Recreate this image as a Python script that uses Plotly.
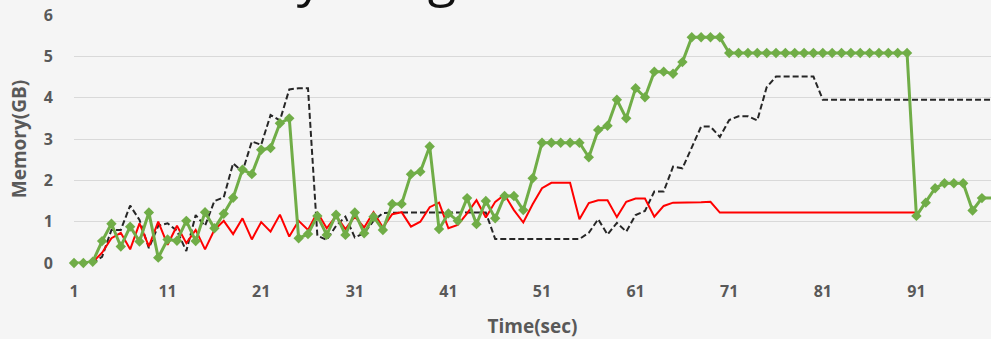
import plotly.graph_objects as go

# Memory (GB) per second
green_mem = [
    0, 0, 0.03, 0.53, 0.95, 0.4, 0.88, 0.52, 1.22, 0.13,
    0.57, 0.54, 1.02, 0.53, 1.23, 0.84, 1.19, 1.58, 2.26, 2.15,
    2.74, 2.78, 3.38, 3.5, 0.6, 0.7, 1.14, 0.68, 1.17, 0.68,
    1.22, 0.72, 1.12, 0.8, 1.43, 1.43, 2.15, 2.21, 2.82, 0.82,
    1.2, 1.02, 1.57, 0.94, 1.5, 1.08, 1.62, 1.62, 1.28, 2.05,
    2.91, 2.91, 2.91, 2.91, 2.91, 2.56, 3.22, 3.32, 3.95, 3.5,
    4.23, 4.01, 4.63, 4.63, 4.58, 4.86, 5.46, 5.46, 5.46, 5.46,
    5.08, 5.08, 5.08, 5.08, 5.08, 5.08, 5.08, 5.08, 5.08, 5.08,
    5.08, 5.08, 5.08, 5.08, 5.08, 5.08, 5.08, 5.08, 5.08, 5.08,
    1.14, 1.46, 1.81, 1.93, 1.93, 1.93, 1.27, 1.57, 1.57,
]

red_mem = [
    0, 0, 0.02, 0.25, 0.6, 0.73, 0.33, 0.96, 0.4, 1.0,
    0.44, 0.9, 0.48, 0.8, 0.33, 0.8, 1.02, 0.7, 1.08, 0.57,
    0.99, 0.76, 1.17, 0.64, 1.02, 0.8, 1.23, 0.84, 1.14, 0.82,
    1.12, 0.86, 1.23, 0.86, 1.18, 1.23, 0.88, 1.0, 1.35, 1.46,
    0.84, 0.92, 1.2, 1.52, 1.1, 1.48, 1.65, 1.28, 0.98, 1.42,
    1.81, 1.94, 1.94, 1.94, 1.06, 1.45, 1.52, 1.52, 1.11, 1.48,
    1.56, 1.56, 1.12, 1.38, 1.46, 1.46, 1.46, 1.47, 1.48, 1.22,
    1.22, 1.22, 1.22, 1.22, 1.22, 1.22, 1.22, 1.22, 1.22, 1.22,
    1.22, 1.22, 1.22, 1.22, 1.22, 1.22, 1.22, 1.22, 1.22, 1.22,
    1.22,
]

black_mem = [
    0, 0, 0, 0.15, 0.8, 0.8, 1.39, 1.04, 0.36, 0.9,
    0.96, 0.78, 0.29, 1.16, 0.9, 1.5, 1.59, 2.41, 2.21, 2.94,
    2.86, 3.58, 3.45, 4.2, 4.23, 4.23, 0.66, 0.56, 0.9, 1.12,
    0.62, 0.72, 1.02, 1.21, 1.22, 1.22, 1.22, 1.22, 1.22, 1.22,
    1.22, 1.22, 1.22, 1.22, 1.22, 0.58, 0.58, 0.58, 0.58, 0.58,
    0.58, 0.58, 0.58, 0.58, 0.58, 0.73, 1.06, 0.69, 0.97, 0.76,
    1.16, 1.26, 1.73, 1.73, 2.33, 2.29, 2.8, 3.3, 3.3, 3.05,
    3.46, 3.55, 3.55, 3.45, 4.25, 4.51, 4.51, 4.51, 4.51, 4.51,
    3.95, 3.95, 3.95, 3.95, 3.95, 3.95, 3.95, 3.95, 3.95, 3.95,
    3.95, 3.95, 3.95, 3.95, 3.95, 3.95, 3.95, 3.95, 3.95,
]

x_tick_vals = [1, 11, 21, 31, 41, 51, 61, 71, 81, 91]
y_tick_vals = [0, 1, 2, 3, 4, 5, 6]

FONT = "Open Sans"
GRAY = "#595959"
BG = "#F5F5F5"

fig = go.Figure()
fig.add_trace(go.Scatter(
    x=list(range(1, len(black_mem) + 1)), y=black_mem, mode="lines",
    line=dict(color="#262626", width=2, dash="6px,3px"), showlegend=False))
fig.add_trace(go.Scatter(
    x=list(range(1, len(red_mem) + 1)), y=red_mem, mode="lines",
    line=dict(color="#FF0000", width=2), showlegend=False))
fig.add_trace(go.Scatter(
    x=list(range(1, len(green_mem) + 1)), y=green_mem, mode="lines+markers",
    line=dict(color="#70AD47", width=3),
    marker=dict(symbol="diamond", size=8, color="#70AD47"),
    cliponaxis=False, showlegend=False))

fig.update_layout(
    width=991, height=339, autosize=False,
    margin=dict(l=74, r=0, t=15, b=76, pad=0),
    paper_bgcolor=BG, plot_bgcolor=BG,
    font=dict(family=FONT, color=GRAY),
    xaxis=dict(
        range=[1, 98.97], tickmode="array", tickvals=x_tick_vals,
        ticktext=[str(v) for v in x_tick_vals],
        showgrid=False, zeroline=False, showline=False,
        ticks="outside", ticklen=14, tickcolor="rgba(0,0,0,0)",
        tickfont=dict(family=FONT, size=16, color=GRAY, weight="bold"),
        title=dict(text="<b>Time(sec)</b>", font=dict(family=FONT, size=19, color=GRAY), standoff=19),
    ),
    yaxis=dict(
        range=[0, 6], tickmode="array", tickvals=y_tick_vals,
        showgrid=True, gridcolor="#D9D9D9", gridwidth=1,
        zeroline=False, showline=False,
        ticks="outside", ticklen=17, tickcolor="rgba(0,0,0,0)",
        tickfont=dict(family=FONT, size=16, color=GRAY, weight="bold"),
        title=dict(text="<b>Memory(GB)</b>", font=dict(family=FONT, size=19, color=GRAY), standoff=11),
    ),
    annotations=[dict(
        text="Memory Usage", xref="paper", yref="paper", x=0.2497, y=1.16,
        xanchor="center", yanchor="middle", showarrow=False,
        font=dict(family=FONT, size=52, color="#111111"))],
)

fig.write_html(
    "out.html",
    config={"displayModeBar": False},
    post_script="document.body.style.margin='0';document.body.style.overflow='hidden';"
                "document.body.style.background='" + BG + "';",
)
